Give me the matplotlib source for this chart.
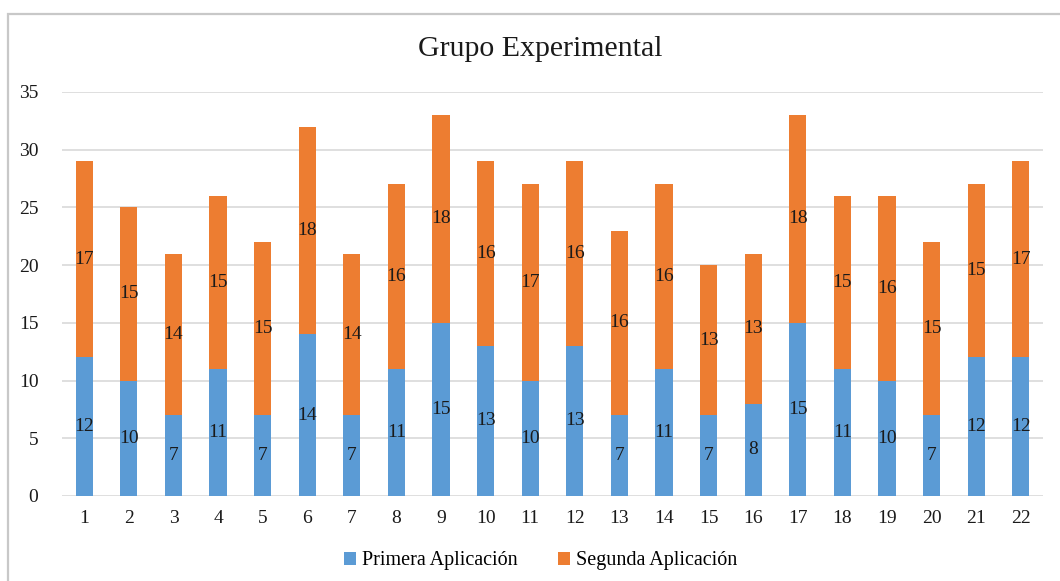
import matplotlib.pyplot as plt
from matplotlib.patches import Rectangle
import numpy as np

# Datos por alumno
alumnos = [str(i) for i in range(1, 23)]
primera = [12, 10, 7, 11, 7, 14, 7, 11, 15, 13, 10, 13, 7, 11, 7, 8, 15, 11, 10, 7, 12, 12]
segunda = [17, 15, 14, 15, 15, 18, 14, 16, 18, 16, 17, 16, 16, 16, 13, 13, 18, 15, 16, 15, 15, 17]

azul = '#5B9BD5'
naranja = '#ED7D31'

plt.rcParams['font.family'] = ['Liberation Serif', 'DejaVu Serif']

fig = plt.figure(figsize=(10.6, 5.81), dpi=100)
ax = fig.add_axes([62 / 1060, 85 / 581, 981 / 1060, 404 / 581])

x = np.arange(len(alumnos))
ancho = 0.385
b1 = ax.bar(x, primera, ancho, color=azul, label='Primera Aplicación', zorder=3)
b2 = ax.bar(x, segunda, ancho, bottom=primera, color=naranja, label='Segunda Aplicación', zorder=3)

for i in range(len(alumnos)):
    ax.text(x[i], primera[i] / 2, str(primera[i]), ha='center', va='center',
            fontsize=14, color='#1a1a1a', zorder=4)
    ax.text(x[i], primera[i] + segunda[i] / 2, str(segunda[i]), ha='center', va='center',
            fontsize=14, color='#1a1a1a', zorder=4)

ax.set_xlim(-0.5, len(alumnos) - 0.5)
ax.set_ylim(0, 35)
ax.set_yticks(range(0, 36, 5))
ax.set_xticks(x)
ax.set_xticklabels(alumnos)
ax.tick_params(axis='both', length=0, labelsize=14, colors='#1a1a1a')
ax.tick_params(axis='y', pad=17)
ax.tick_params(axis='x', pad=10)
ax.grid(axis='y', color='#d9d9d9', linewidth=1.2, zorder=0)
for s in ax.spines.values():
    s.set_visible(False)

fig.text(0.51, 1 - 49 / 581, 'Grupo Experimental', ha='center', va='center',
         fontsize=21.5, color='#1a1a1a')

fig.legend(handles=[b1, b2], loc='center', bbox_to_anchor=(0.51, 1 - 561 / 581),
           ncol=2, frameon=False, fontsize=14.5, handlelength=0.6, handleheight=0.6,
           handletextpad=0.3, columnspacing=2.0)

# marco gris del gráfico
fig.patches.append(Rectangle((8 / 1060, -0.1), 1.2, 1 - 14 / 581 + 0.1,
                             transform=fig.transFigure, fill=False,
                             edgecolor='#c8c8c8', linewidth=1.6))

fig.savefig('out.png', dpi=100)
